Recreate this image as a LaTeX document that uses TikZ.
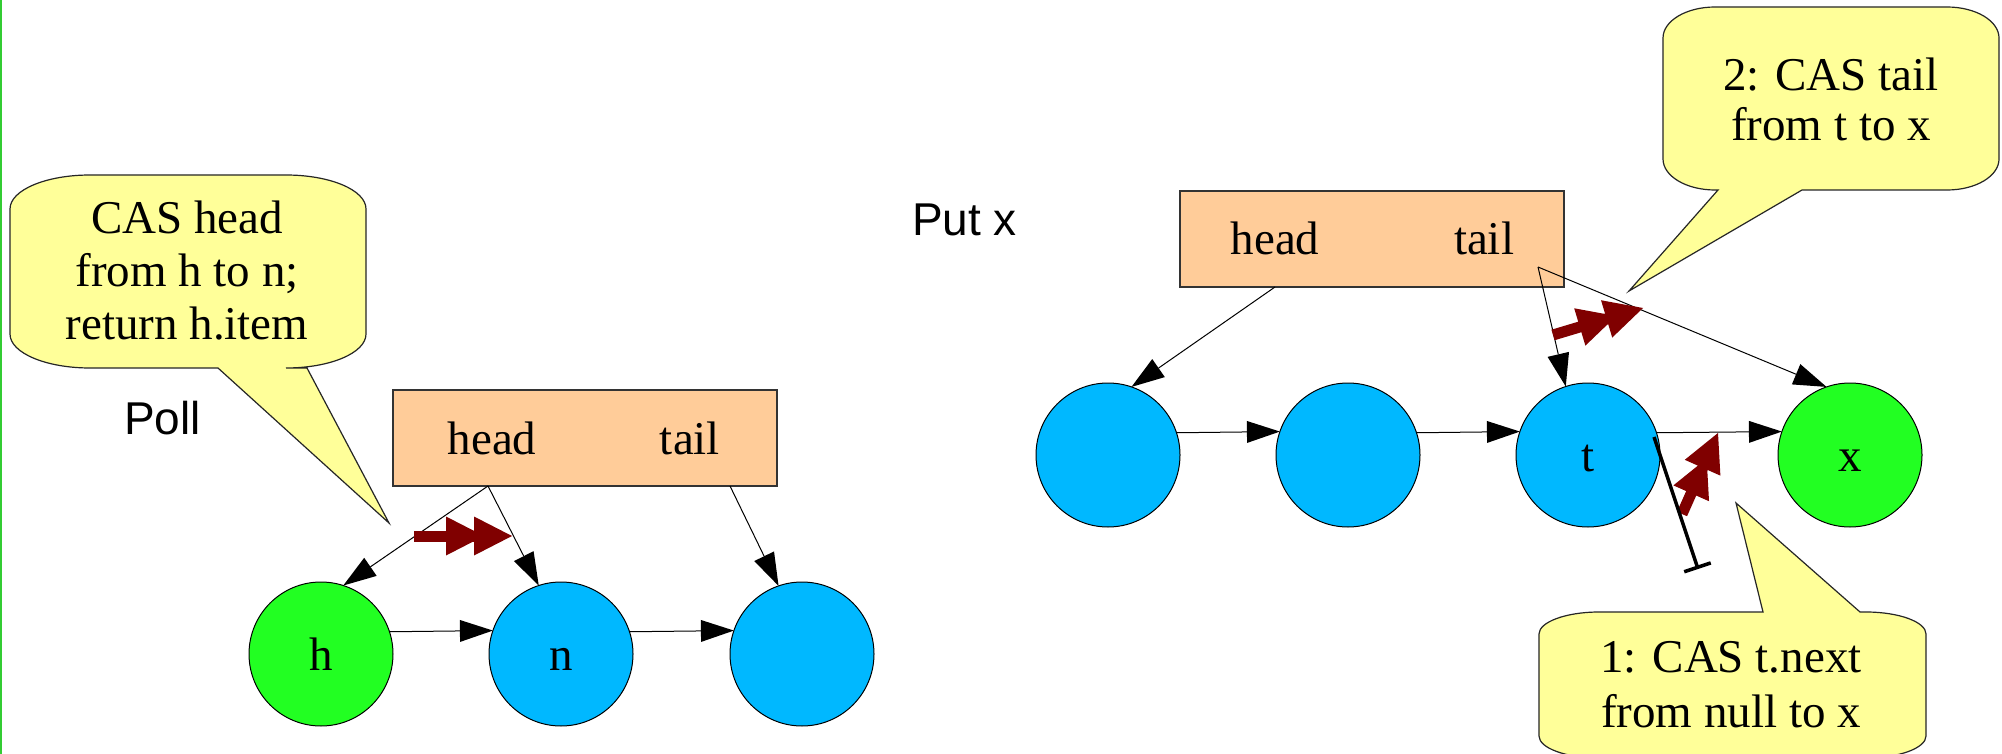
\documentclass[tikz,border=0pt]{standalone}
\usepackage{fontspec}
\setmainfont{Liberation Serif}
\setsansfont{Liberation Sans}
\usetikzlibrary{arrows.meta,calc}
\definecolor{nodeblue}{HTML}{00B8FF}
\definecolor{nodegreen}{HTML}{22FF22}
\definecolor{queuefill}{HTML}{FFCC99}
\definecolor{notefill}{HTML}{FFFF99}
\definecolor{casred}{HTML}{800000}
\definecolor{edgegreen}{HTML}{33CC33}
\begin{document}
\begin{tikzpicture}[x=0.5pt,y=-0.5pt,
  every node/.style={inner sep=0pt,outer sep=0pt},
  fieldtext/.style={font=\fontsize{23.5}{27}\selectfont,anchor=base},
  optext/.style={font=\fontsize{23}{27}\sffamily\selectfont,anchor=base west},
  queue/.style={draw=black!80,line width=0.6pt,fill=queuefill,
    minimum width=192pt,minimum height=48pt},
  listnode/.style={circle,draw=black,line width=0.5pt,minimum size=72pt,
    font=\fontsize{23.5}{27}\selectfont,text height=16pt,text depth=0pt},
  ptr/.style={draw=black,line width=0.5pt,
    -{Triangle[length=16.5pt,width=11pt,line width=0pt]}},
  casmove/.style={draw=casred,line width=5.5pt,
    -{Triangle[length=19pt,width=19.5pt,line width=0pt,sep=-5pt]
      Triangle[length=19pt,width=19.5pt,line width=0pt]}},
  barrier/.style={draw=black,line width=1.75pt,-{Bar[width=14pt]}},
  note/.style={draw=black!85,line width=0.6pt,fill=notefill},
  notetext/.style={align=center}]
\useasboundingbox (0,0) rectangle (2002,754);
\clip (0,0) rectangle (2002,754);
\fill[white] (0,0) rectangle (2002,754);
\draw[edgegreen,line width=1.2pt] (1,0) -- (1,754);

% speech bubbles
\path[note] (218,368) -- (389,523) -- (307,368) -- (286,368)
  .. controls (330,368) and (366,353) .. (366,334) -- (366,209)
  .. controls (366,190) and (330,175) .. (286,175) -- (90,175)
  .. controls (46,175) and (10,190) .. (10,209) -- (10,334)
  .. controls (10,353) and (46,368) .. (90,368) -- cycle;
\node[notetext,font=\fontsize{23.5}{26.5}\selectfont] (pollnote) at (187,271)
  {CAS head\\from h to n;\\return h.item};

\path[note] (1718,190) -- (1629,291) -- (1802,190) -- (1947,190)
  .. controls (1976,190) and (1999,176) .. (1999,159) -- (1999,38)
  .. controls (1999,21) and (1976,7) .. (1947,7) -- (1715,7)
  .. controls (1686,7) and (1663,21) .. (1663,38) -- (1663,159)
  .. controls (1663,176) and (1686,190) .. (1715,190) -- cycle;
\node[notetext,font=\fontsize{23.5}{25}\selectfont] (tailnote) at (1831,99)
  {2: CAS tail\\from t to x};

\path[note] (1763,612) -- (1736,503) -- (1860,612) -- (1866,612)
  .. controls (1899,612) and (1926,622) .. (1926,634) -- (1926,736)
  .. controls (1926,748) and (1899,758) .. (1866,758) -- (1599,758)
  .. controls (1566,758) and (1539,748) .. (1539,736) -- (1539,634)
  .. controls (1539,622) and (1566,612) .. (1599,612) -- cycle;
\node[notetext,font=\fontsize{23.5}{27.5}\selectfont] (nextnote) at (1731,684.5)
  {1: CAS t.next\\from null to x};

% operation names
\node[optext] (pollname) at (124,434) {Poll};
\node[optext] (putname) at (912,235) {Put x};

% queue objects
\node[queue] (pq) at (585,438) {};
\node[fieldtext] (pqheadtxt) at (492,454) {head};
\node[fieldtext] (pqtailtxt) at (690,454) {tail};
\node[queue] (uq) at (1372,239) {};
\node[fieldtext] (uqheadtxt) at (1275,255) {head};
\node[fieldtext] (uqtailtxt) at (1484,255) {tail};

\coordinate (pqhead) at ($(pq.south west)+(95,0)$);
\coordinate (pqtail) at ($(pq.south west)+(337,0)$);
\coordinate (uqhead) at ($(uq.south west)+(95,0)$);
\coordinate (uqtail) at ($(uq.south west)+(358,-20)$);

% list nodes
\node[listnode,fill=nodegreen] (nh) at (321,654) {h};
\node[listnode,fill=nodeblue] (nn) at (561,654) {n};
\node[listnode,fill=nodeblue] (p3) at (802,654) {};
\node[listnode,fill=nodeblue] (q1) at (1108,455) {};
\node[listnode,fill=nodeblue] (q2) at (1348,455) {};
\node[listnode,fill=nodeblue] (nt) at (1588,455) {t};
\node[listnode,fill=nodegreen] (nx) at (1850,455) {x};

% references
\draw[ptr] (pqhead) -- (nh.72);
\draw[ptr] (pqhead) -- (nn.108);
\draw[ptr] (pqtail) -- (p3.109);
\draw[ptr] (nh.18.43) -- (nn.161.57);
\draw[ptr] (nn.18.43) -- (p3.161.57);

\draw[ptr] (uqhead) -- (q1.71);
\draw[ptr] (q1.18.43) -- (q2.161.57);
\draw[ptr] (q2.18.43) -- (nt.161.57);
\draw[ptr] (nt.18.43) -- (nx.161.57);
\draw[ptr] (uqtail) -- (nt.108);
\draw[ptr] (uqtail) -- (nx.109);

% CAS moves
\coordinate (m1a) at (414,536);
\coordinate (m1b) at (512,536);
\coordinate (m2a) at (1553,335);
\coordinate (m2b) at (1643,308);
\coordinate (m3a) at (1682,514);
\coordinate (m3b) at (1718,433);
\draw[casmove] (m1a) -- (m1b);
\draw[casmove] (m2a) -- (m2b);
\draw[casmove] (m3a) -- (m3b);

% old null next reference
\coordinate (cutA) at (1654,437);
\coordinate (cutB) at (1698,569);
\draw[barrier] (cutA) -- (cutB);
\end{tikzpicture}
\end{document}
